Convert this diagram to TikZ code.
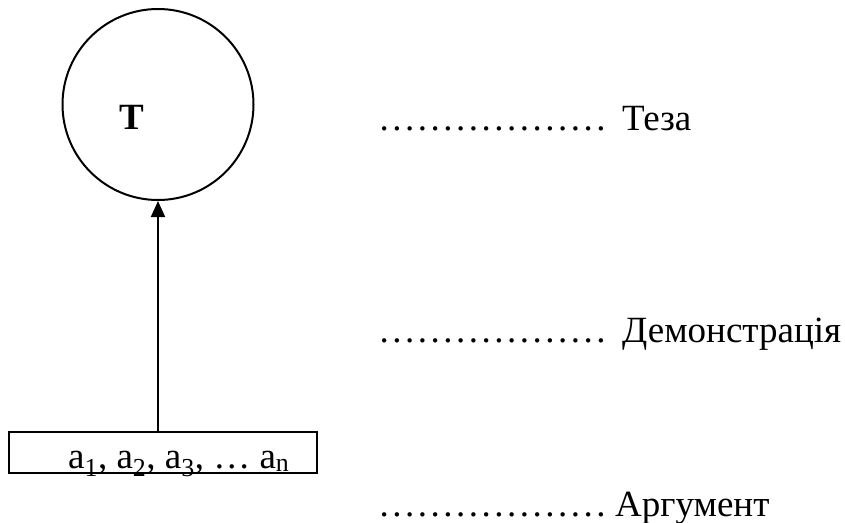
\documentclass[tikz,border=0pt]{standalone}
\usepackage{fontspec}
\setmainfont{Liberation Serif}
\usetikzlibrary{arrows.meta}
\newcommand\myell{\char"2026\relax}
\newcommand\mydots{\hbox to 226pt{.\hfill.\hfill.\hfill.\hfill.\hfill.\hfill.\hfill.\hfill.\hfill.\hfill.\hfill.\hfill.\hfill.\hfill.\hfill.\hfill.\hfill.}}
\begin{document}
\begin{tikzpicture}[x=1pt,y=-1pt,
  lbl/.style={anchor=base west,inner sep=0pt,font=\fontsize{37}{44}\selectfont},
  thick2/.style={line width=2pt}]
\useasboundingbox (0,0) rectangle (845,522);
% thesis circle
\node[draw,thick2,circle,minimum size=191pt,inner sep=0pt] (thesis) at (158,104.5) {};
\node[anchor=base,inner sep=0pt,font=\fontsize{37}{44}\selectfont\bfseries] (tlabel) at (131.5,129) {T};
% arguments box
\node[draw,thick2,rectangle,minimum width=308pt,minimum height=41pt,inner sep=0pt] (box) at (163,452.5) {};
\node[lbl] (args) at (68,468) {a\textsubscript{1}, a\textsubscript{2}, a\textsubscript{3}, \myell{} a\textsubscript{n}};
% demonstration arrow
\draw[thick2,-{Triangle[length=16pt,width=14pt]}] (thesis.south |- box.north) -- (thesis.south);
% right-hand legend
\node[lbl] (d1) at (379.5,130) {\mydots};
\node[lbl] (w1) at (622,130) {Теза};
\node[lbl] (d2) at (379.5,342) {\mydots};
\node[lbl] (w2) at (622,342) {Демонстрація};
\node[lbl] (d3) at (379.5,516) {\mydots};
\node[lbl] (w3) at (615,516) {Аргумент};
\end{tikzpicture}
\end{document}
